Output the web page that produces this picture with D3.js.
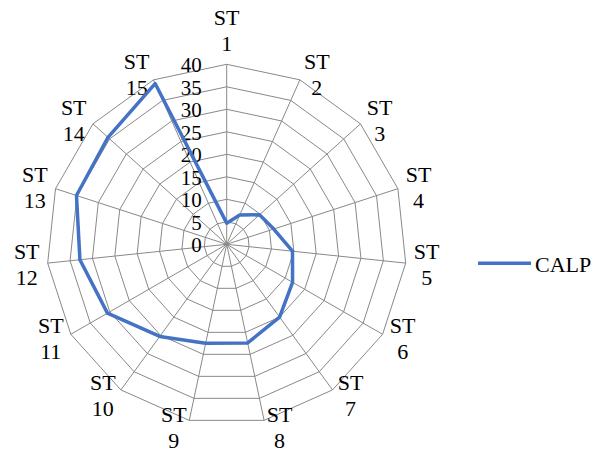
<!DOCTYPE html>
<html>
<head>
<meta charset="utf-8">
<script src="https://cdn.jsdelivr.net/npm/d3@7"></script>
<style>
  html, body { margin: 0; padding: 0; background: #fff; }
  svg { display: block; }
</style>
</head>
<body>
<svg id="chart" width="597" height="454"></svg>
<script>
// Station categories (two-line labels)
const categories = ["ST 1","ST 2","ST 3","ST 4","ST 5","ST 6","ST 7","ST 8",
                    "ST 9","ST 10","ST 11","ST 12","ST 13","ST 14","ST 15"];
// CALP series
const seriesName = "CALP";
const calpValues = [4.7, 7.1, 9.8, 11.0, 14.7, 16.9, 20.0, 22.4, 22.5, 25.3, 30.6, 32.8, 35.1, 35.5, 39.1];
// Radial axis ticks
const tickValues = [0, 5, 10, 15, 20, 25, 30, 35, 40];

const FONT = '"Liberation Serif", "Times New Roman", serif';
const svg = d3.select("#chart");
const cx = 226.7, cy = 244.3, R = 180;
const gridColor = "#898989";
const seriesColor = "#4472C4";

const r = d3.scaleLinear().domain([0, 40]).range([0, R]);
const step = 2 * Math.PI / categories.length;
// Angle of each category, clockwise from the top
const ang = d3.scalePoint().domain(categories).range([0, 2 * Math.PI - step]);
const pt = (c, v) => [cx + r(v) * Math.sin(ang(c)), cy - r(v) * Math.cos(ang(c))];

// Serif text helper
function label(x, y, size, str, anchor) {
  return svg.append("text")
    .attr("x", x).attr("y", y)
    .attr("text-anchor", anchor || "start")
    .attr("fill", "#000")
    .style("font-family", FONT, "important")
    .style("font-size", size + "px", "important")
    .text(str);
}

// Concentric polygon grid
tickValues.slice(1).forEach(t => {
  svg.append("path")
    .attr("d", d3.line()(categories.map(c => pt(c, t))) + "Z")
    .attr("fill", "none")
    .attr("stroke", gridColor)
    .attr("stroke-width", 1);
});

// Spokes
categories.forEach(c => {
  const [x, y] = pt(c, 40);
  svg.append("line")
    .attr("x1", cx).attr("y1", cy).attr("x2", x).attr("y2", y)
    .attr("stroke", gridColor).attr("stroke-width", 1);
});

// Radial tick labels along the first spoke
tickValues.forEach(d => label(cx - 25, cy - r(d) + 8, 21, String(d), "end"));

// Category labels placed outside the outer ring, two lines each
categories.forEach(c => {
  const a = ang(c);
  const ux = Math.sin(a), uy = -Math.cos(a);
  const [vx, vy] = pt(c, 40);
  let lx, ly;
  if (Math.abs(ux) < 0.01) { lx = vx; ly = vy - 34; }
  else { lx = vx + Math.sign(ux) * (14 + 7 * Math.abs(ux)); ly = vy + uy * 6.5; }
  const parts = c.split(" ");
  label(lx, ly - 5, 22, parts[0], "middle");
  label(lx, ly + 21, 22, parts[1], "middle");
});

// Series line
svg.append("path")
  .attr("d", d3.line()(categories.map((c, i) => pt(c, calpValues[i]))) + "Z")
  .attr("fill", "none")
  .attr("stroke", seriesColor)
  .attr("stroke-width", 3.5)
  .attr("stroke-linejoin", "round");

// Legend
svg.append("line").attr("x1", 478).attr("x2", 531).attr("y1", 263.3).attr("y2", 263.3)
  .attr("stroke", seriesColor).attr("stroke-width", 3.5);
label(535, 271.5, 22, seriesName);
</script>
</body>
</html>
